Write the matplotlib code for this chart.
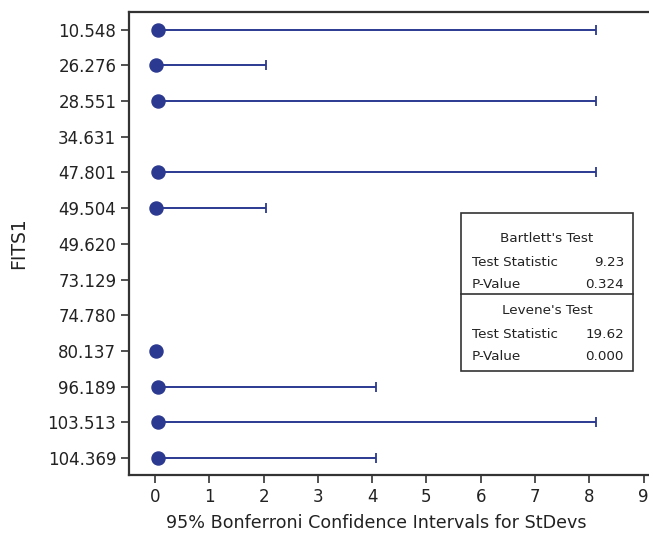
import numpy as np
import matplotlib
matplotlib.use("Agg")
import matplotlib.pyplot as plt
from matplotlib.patches import Rectangle

groups = ['10.548', '26.276', '28.551', '34.631', '47.801', '49.504', '49.620',
          '73.129', '74.780', '80.137', '96.189', '103.513', '104.369']
stdev = [0.05, 0.02, 0.05, np.nan, 0.05, 0.02, np.nan, np.nan, np.nan, 0.02, 0.05, 0.05, 0.05]
upper = [8.12, 2.05, 8.12, np.nan, 8.12, 2.05, np.nan, np.nan, np.nan, np.nan, 4.08, 8.12, 4.08]

bartlett = [("Test Statistic", "9.23"), ("P-Value", "0.324")]
levene = [("Test Statistic", "19.62"), ("P-Value", "0.000")]

blue = '#2B3990'
dark = '#333333'

fig = plt.figure(figsize=(6.49, 5.37), dpi=100)
ax = fig.add_axes([0.1995, 0.1155, 0.8005, 0.8622])

y = np.arange(len(groups))
s = np.array(stdev)
u = np.array(upper)
has_ci = ~np.isnan(u)
ax.errorbar(s[has_ci], y[has_ci], xerr=[np.zeros(has_ci.sum()), u[has_ci] - s[has_ci]],
            fmt='none', ecolor=blue, elinewidth=1.4, capsize=3.5, capthick=1.3)
ax.plot(s, y, 'o', color=blue, markersize=9.4, linestyle='none')

ax.set_xlim(-0.47, 9.1)
ax.set_ylim(12.48, -0.5)
ax.set_yticks(y)
ax.set_yticklabels(groups)
ax.set_xticks(range(10))

for side in ['left', 'bottom', 'top']:
    ax.spines[side].set_color(dark)
    ax.spines[side].set_linewidth(1.6)
ax.spines['right'].set_visible(False)
ax.tick_params(direction='out', length=6, width=1.2, color=dark, labelsize=12, labelcolor='#222222')
ax.set_ylabel('FITS1', fontsize=13.5, color='#222222', labelpad=14)
ax.set_xlabel('95% Bonferroni Confidence Intervals for StDevs', fontsize=12.6,
              color='#222222')
ax.xaxis.set_label_coords(0.4745, -0.084)

# test results box (figure pixel coordinates -> fractions)
W, H = 649, 537
def fx(px): return px / W
def fy(py): return 1 - py / H

fig.patches.append(Rectangle((fx(461), fy(371)), fx(633) - fx(461), fy(213) - fy(371),
                             transform=fig.transFigure, fill=False, edgecolor=dark, lw=1.2))
fig.add_artist(plt.Line2D([fx(461), fx(633)], [fy(294), fy(294)], color=dark, lw=1.2))

fs = 9.7
fig.text(fx(547), fy(238), "Bartlett's Test", ha='center', va='center', fontsize=fs, color='#222222')
for i, (k, v) in enumerate(bartlett):
    yy = fy(263 + 21 * i)
    fig.text(fx(472), yy, k, ha='left', va='center', fontsize=fs, color='#222222')
    fig.text(fx(624), yy, v, ha='right', va='center', fontsize=fs, color='#222222')
fig.text(fx(547), fy(310), "Levene's Test", ha='center', va='center', fontsize=fs, color='#222222')
for i, (k, v) in enumerate(levene):
    yy = fy(335 + 22 * i)
    fig.text(fx(472), yy, k, ha='left', va='center', fontsize=fs, color='#222222')
    fig.text(fx(624), yy, v, ha='right', va='center', fontsize=fs, color='#222222')

fig.savefig('out.png', dpi=100)
